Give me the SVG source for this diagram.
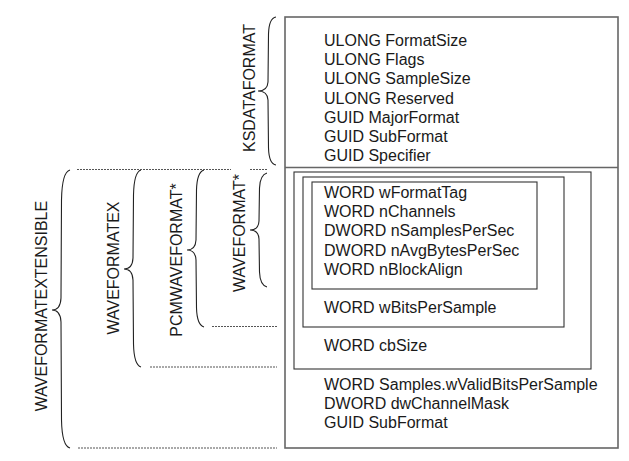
<svg xmlns="http://www.w3.org/2000/svg" width="629" height="461" viewBox="0 0 629 461">
<style>
text { font-family: "Liberation Sans", Arial, sans-serif; font-size: 16px; fill: #1a1a1a; }
.vlab { text-anchor: middle; }
.outer { fill: none; stroke: #666; stroke-width: 1.6; }
.inner { fill: none; stroke: #333; stroke-width: 1.1; }
.brace { fill: none; stroke: #222; stroke-width: 1.1; }
.dot { fill: none; stroke: #555; stroke-width: 1.2; stroke-dasharray: 2 1; }
</style>
<rect width="629" height="461" fill="#fff"/>
<g id="ksdataformat">
  <rect class="outer" x="285" y="17" width="333" height="431"/>
  <line class="outer" x1="285" y1="167.5" x2="618" y2="167.5"/>
  <text x="324" y="46">ULONG FormatSize</text>
  <text x="324" y="65.2">ULONG Flags</text>
  <text x="324" y="84.4">ULONG SampleSize</text>
  <text x="324" y="103.6">ULONG Reserved</text>
  <text x="324" y="122.8">GUID MajorFormat</text>
  <text x="324" y="142">GUID SubFormat</text>
  <text x="324" y="161.2">GUID Specifier</text>
</g>
<g id="waveformatextensible">
  <text x="324" y="389.5">WORD Samples.wValidBitsPerSample</text>
  <text x="324" y="408.7">DWORD dwChannelMask</text>
  <text x="324" y="427.9">GUID SubFormat</text>
</g>
<g id="waveformatex">
  <rect class="inner" x="294" y="172" width="297" height="197"/>
  <text x="324" y="351">WORD cbSize</text>
</g>
<g id="pcmwaveformat">
  <rect class="inner" x="303" y="177" width="261" height="150"/>
  <text x="324" y="313">WORD wBitsPerSample</text>
</g>
<g id="waveformat">
  <rect class="inner" x="312" y="182" width="225" height="107"/>
  <text x="324" y="198">WORD wFormatTag</text>
  <text x="324" y="217.2">WORD nChannels</text>
  <text x="324" y="236.4">DWORD nSamplesPerSec</text>
  <text x="324" y="255.6">DWORD nAvgBytesPerSec</text>
  <text x="324" y="274.8">WORD nBlockAlign</text>
</g>
<g id="labels">
  <text class="vlab" transform="translate(255,88) rotate(-90)">KSDATAFORMAT</text>
  <text class="vlab" transform="translate(47,306) rotate(-90)">WAVEFORMATEXTENSIBLE</text>
  <text class="vlab" transform="translate(119,268) rotate(-90)">WAVEFORMATEX</text>
  <text class="vlab" transform="translate(182,260) rotate(-90)">PCMWAVEFORMAT*</text>
  <text class="vlab" transform="translate(245,233) rotate(-90)">WAVEFORMAT*</text>
</g>
<g id="connectors">
  <path class="brace" d="M276,17 Q269,18 268.5,34 L268,82 Q267.5,91 258,91 Q267.5,91 268,100 L268.5,148 Q269,164 276,165"/>
  <path class="brace" d="M70,170 Q62,172 61.5,200 L61,298 Q60.5,310 52,310 Q60.5,310 61,322 L61.5,420 Q62,446 70,448"/>
  <path class="brace" d="M141,170 Q134,172 133.5,195 L133,258 Q132.5,269 124,269 Q132.5,269 133,280 L133.5,344 Q134,365 141,367"/>
  <path class="brace" d="M204,170 Q197,172 196.5,190 L196,240 Q195.5,250 187,250 Q195.5,250 196,260 L196.5,308 Q197,325 204,327"/>
  <path class="brace" d="M267,173 Q260,175 259.5,188 L259,221 Q258.5,230 250,230 Q258.5,230 259,239 L259.5,272 Q260,285 267,287"/>
  <line class="dot" x1="77" y1="169.5" x2="231" y2="169.5"/>
  <line class="dot" x1="250" y1="169.5" x2="267" y2="169.5"/>
  <line class="dot" x1="212" y1="326.5" x2="277" y2="326.5"/>
  <line class="dot" x1="150" y1="367" x2="277" y2="367"/>
  <line class="dot" x1="78" y1="448" x2="277" y2="448"/>
</g>
</svg>
